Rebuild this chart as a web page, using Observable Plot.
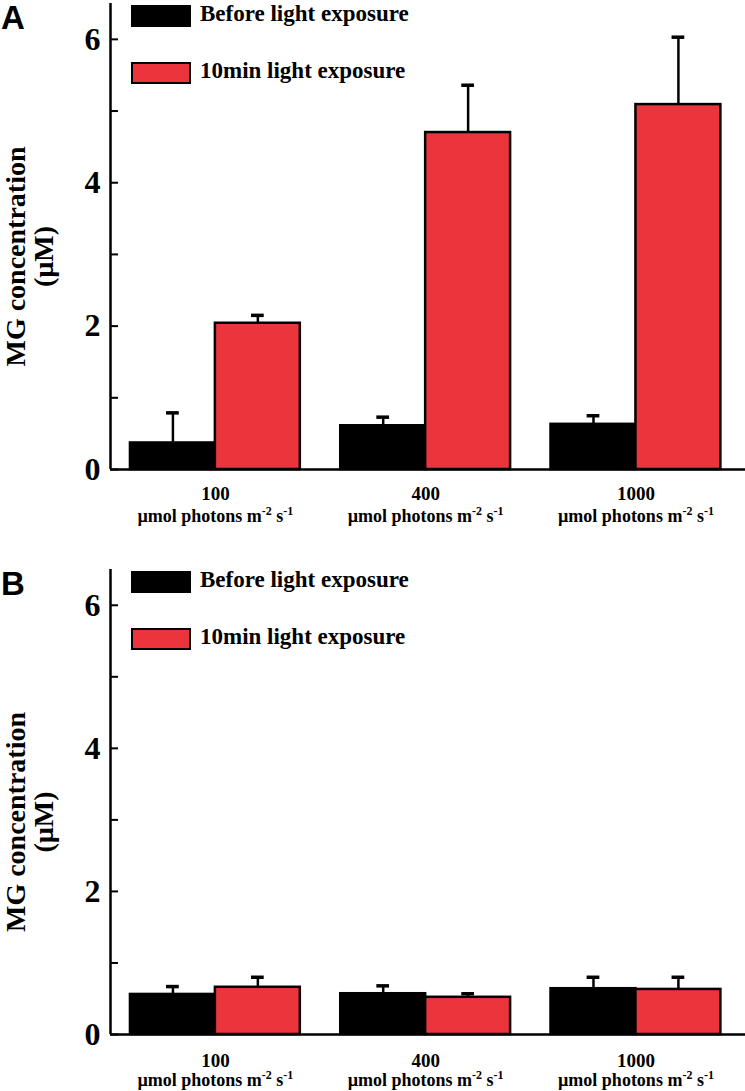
<!DOCTYPE html>
<html><head><meta charset="utf-8">
<script src="https://cdn.jsdelivr.net/npm/d3@7"></script>
<script src="https://cdn.jsdelivr.net/npm/@observablehq/plot@0.6"></script>
<style>
body{margin:0;background:#fff;}
.panel{position:relative;width:745px;}
.letter{position:absolute;left:1px;top:1px;font:bold 33px/33px "Liberation Sans",Arial,sans-serif;color:#000;}
.leg{position:absolute;left:131px;width:60px;height:22px;box-sizing:border-box;border:2px solid #000;}
.legtxt{position:absolute;left:200px;font:bold 23px/22px "Liberation Serif","Times New Roman",serif;white-space:nowrap;color:#000;}
svg{display:block}
</style></head><body><div id="chart"></div>
<script>
// ---- data ----
const groups = ["100", "400", "1000"];
const unitLabel = "µmol photons m-2 s-1";
const seriesNames = ["Before light exposure", "10min light exposure"];
const seriesColors = ["#000000", "#EB343C"];
const yTicks = [0, 1, 2, 3, 4, 5, 6];
const yLabel = "MG concentration\n(µM)";
const panelLetters = ["A", "B"];

const aBefore = [0.37, 0.61, 0.63];
const aBeforeErr = [0.42, 0.12, 0.12];
const aAfter = [2.04, 4.70, 5.09];
const aAfterErr = [0.11, 0.66, 0.94];

const bBefore = [0.56, 0.57, 0.64];
const bBeforeErr = [0.11, 0.11, 0.16];
const bAfter = [0.66, 0.52, 0.63];
const bAfterErr = [0.14, 0.05, 0.17];

// ---- layout ----
const GAP = 0.476;          // gap between groups, in bar widths
const PITCH = 2 + GAP;
const X_DOMAIN = [-0.235, 2 * PITCH + 2 + 0.29];
const CAP = 0.075;

function buildRows(vals) {
  const rows = [];
  groups.forEach((g, gi) => {
    vals.forEach(([v, e], si) => {
      const x1 = gi * PITCH + si;
      rows.push({group: g, series: seriesNames[si], si, value: v[gi], err: e[gi], x1, x2: x1 + 1, xc: x1 + 0.5});
    });
  });
  return rows;
}

function makePanel(letter, vals, cfg) {
  const rows = buildRows(vals);
  const labelRows = groups.map((g, gi) => ({group: g, xc: gi * PITCH + 1}));
  const svg = Plot.plot({
    width: 745,
    height: cfg.height,
    marginLeft: 110,
    marginRight: 0,
    marginTop: 3,
    marginBottom: cfg.marginBottom,
    x: {domain: X_DOMAIN, axis: null},
    y: {domain: [0, 6.5], axis: null},
    style: {background: "white", fontFamily: "'Liberation Serif','Times New Roman',serif"},
    marks: [
      Plot.rectY(rows, {x1: "x1", x2: "x2", y1: 0, y2: "value",
        fill: d => seriesColors[d.si], stroke: "#000", strokeWidth: 2.5}),
      Plot.ruleX(rows, {x: "xc", y1: "value", y2: d => d.value + d.err, stroke: "#000", strokeWidth: 2.5}),
      Plot.ruleY(rows, {x1: d => d.xc - CAP, x2: d => d.xc + CAP, y: d => d.value + d.err, stroke: "#000", strokeWidth: 3.5}),
      Plot.ruleY([0], {stroke: "#000", strokeWidth: 2.5}),
      Plot.ruleX([X_DOMAIN[0]], {stroke: "#000", strokeWidth: 2.5}),
      Plot.axisY({ticks: yTicks, tickSize: -8, tickPadding: 18, strokeWidth: 2,
        tickFormat: d => (d % 2 ? "" : String(d)), label: null,
        fontSize: 32, fontWeight: "bold", fontFamily: "'Liberation Serif','Times New Roman',serif"}),
      Plot.text([yLabel], {text: d => d, frameAnchor: "left", textAnchor: "middle", lineAnchor: "middle",
        rotate: -90, dx: -80, dy: 20,
        lineHeight: 1.0, fontSize: 28, fontWeight: "bold", fill: "#000"}),
      Plot.text(labelRows, {x: "xc", text: "group", frameAnchor: "bottom", lineAnchor: "middle", dy: cfg.dy1,
        fontSize: 19, fontWeight: "bold", fill: "#000"}),
      Plot.text(labelRows, {x: "xc", text: () => unitLabel, frameAnchor: "bottom", lineAnchor: "middle", dy: cfg.dy2,
        fontSize: 18, fontWeight: "bold", fill: "#000"})
    ]
  });
  // superscripts for the unit label
  d3.select(svg).selectAll("text").each(function() {
    if (this.textContent === unitLabel && this.childElementCount === 0) {
      const t = d3.select(this);
      t.text(null);
      t.append("tspan").text("µmol photons m");
      t.append("tspan").attr("font-size", 12).attr("dy", -7).text("-2");
      t.append("tspan").attr("font-size", 18).attr("dy", 7).text(" s");
      t.append("tspan").attr("font-size", 12).attr("dy", -7).text("-1");
    }
  });
  const div = document.createElement("div");
  div.className = "panel";
  div.appendChild(svg);
  const L = document.createElement("div");
  L.className = "letter"; L.textContent = letter;
  div.appendChild(L);
  seriesNames.forEach((name, i) => {
    const r = document.createElement("div");
    r.className = "leg";
    r.style.top = (5 + i * 57) + "px";
    r.style.background = seriesColors[i];
    div.appendChild(r);
    const t = document.createElement("div");
    t.className = "legtxt";
    t.style.top = (3 + i * 57) + "px";
    t.textContent = name;
    div.appendChild(t);
  });
  return div;
}

const chart = document.getElementById("chart");
chart.appendChild(makePanel(panelLetters[0], [[aBefore, aBeforeErr], [aAfter, aAfterErr]],
  {height: 566, marginBottom: 97, dy1: 24, dy2: 47}));
chart.appendChild(makePanel(panelLetters[1], [[bBefore, bBeforeErr], [bAfter, bAfterErr]],
  {height: 525, marginBottom: 57, dy1: 26, dy2: 46}));
</script></body></html>
